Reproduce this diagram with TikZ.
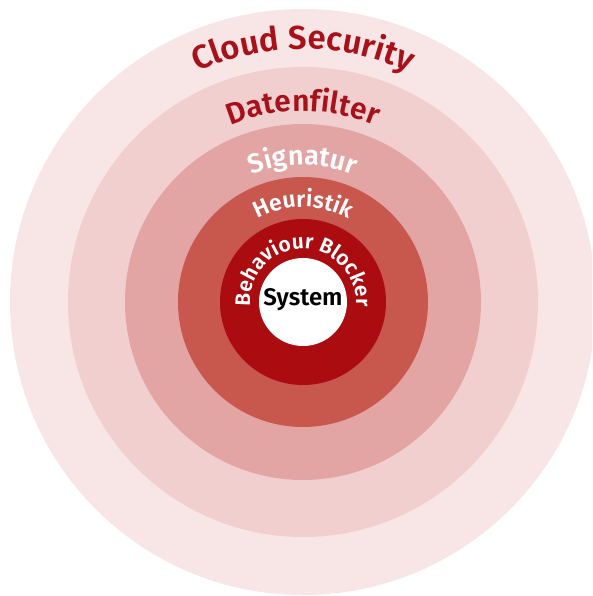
\documentclass[tikz,border=0pt]{standalone}
\usepackage{fontspec}
\setmainfont{Fira Sans}[BoldFont=* SemiBold]
\usetikzlibrary{decorations.text}
\definecolor{cloudpink}{HTML}{F8E5E5}
\definecolor{filterpink}{HTML}{F1CFCF}
\definecolor{sigrose}{HTML}{E2A5A4}
\definecolor{heured}{HTML}{C8574D}
\definecolor{blockred}{HTML}{AA0C0F}
\definecolor{labelred}{HTML}{A8101A}
\tikzset{
layer/.style={circle, inner sep=0pt, outer sep=0pt, minimum size=#1},
arclabel/.style n args={3}{decorate, decoration={text along path, text align=center,
  text={|\fontsize{#1}{#1}\selectfont\bfseries\color{#2}|#3}}},
}
\begin{document}
\begin{tikzpicture}
\useasboundingbox (-303pt,-294pt) rectangle (289pt,302pt);
\clip (-303pt,-294pt) rectangle (289pt,302pt);
% rings, outside in
\foreach \r/\c/\n in {293/cloudpink/cloud, 235/filterpink/filter, 178/sigrose/signatur,
                      125/heured/heuristik, 83/blockred/blocker, 44/white/core}
    \node (\n) [layer={2*\r*1pt}, fill=\c] at (0,0) {};
\node (system) at (0,2pt) {\fontsize{24}{24}\selectfont\bfseries System};
% curved labels
\path[arclabel={33}{labelred}{Cloud Security}] (175:253pt) arc[start angle=175, end angle=5, radius=253pt];
\path[arclabel={30}{labelred}{Datenfilter}] (170:191pt) arc[start angle=170, end angle=10, radius=191pt];
\path[arclabel={27}{white}{Signatur}] (165:137pt) arc[start angle=165, end angle=15, radius=137pt];
\path[arclabel={23}{white}{Heuristik}] (160:95pt) arc[start angle=160, end angle=20, radius=95pt];
\path[arclabel={21}{white}{Behaviour Blocker}] (215:53pt) arc[start angle=215, end angle=-35, radius=53pt];
\end{tikzpicture}
\end{document}
